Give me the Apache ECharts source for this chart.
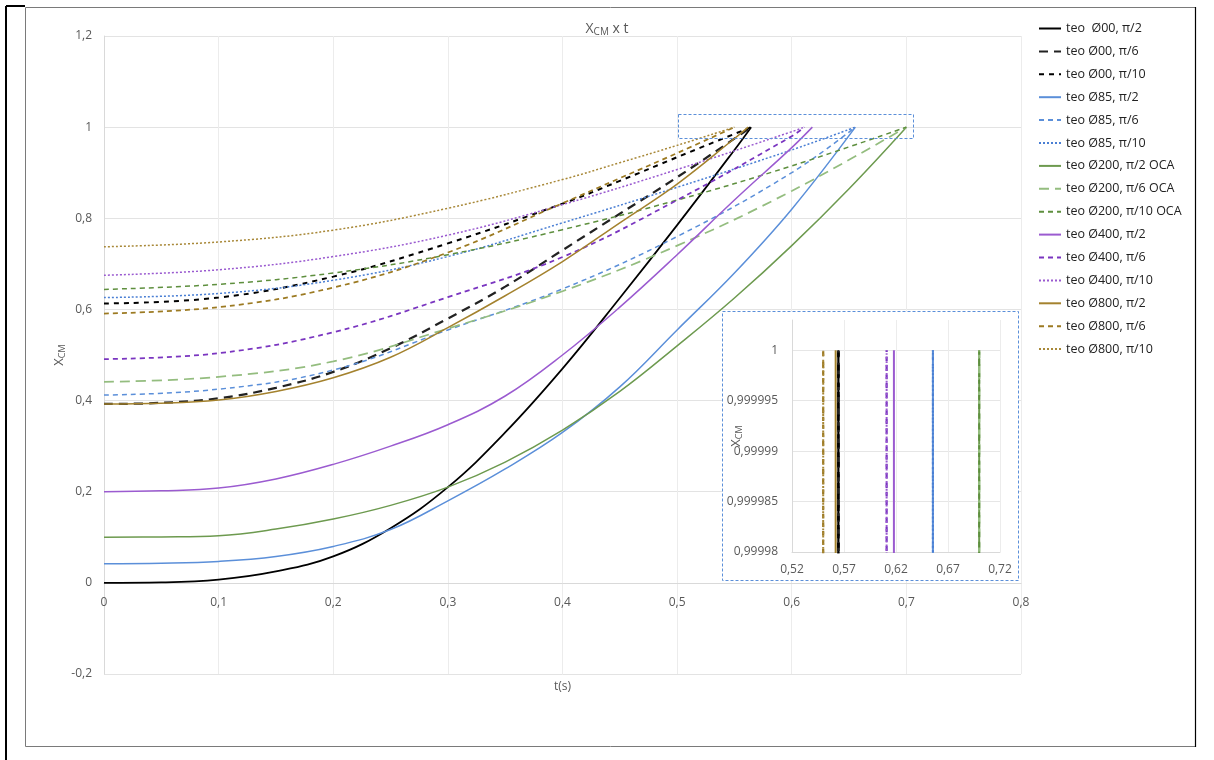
<!DOCTYPE html>
<html><head><meta charset="utf-8">
<script src="https://cdn.jsdelivr.net/npm/echarts@6/dist/echarts.min.js"></script>
<style>html,body{margin:0;padding:0;background:#fff}#c{width:1214px;height:760px}</style>
</head><body><div id="c"></div>
<script>
// ---- DATA ----
const seriesNames = [
  'teo  Ø00, π/2','teo Ø00, π/6','teo Ø00, π/10',
  'teo Ø85, π/2','teo Ø85, π/6','teo Ø85, π/10',
  'teo Ø200, π/2 OCA','teo Ø200, π/6 OCA','teo Ø200, π/10 OCA',
  'teo Ø400, π/2','teo Ø400, π/6','teo Ø400, π/10',
  'teo Ø800, π/2','teo Ø800, π/6','teo Ø800, π/10'
];
// Ø00
const t_00_2  = [0,0.05,0.1,0.15,0.2,0.25,0.3,0.35,0.4,0.45,0.5,0.55,0.5646];
const x_00_2  = [0,0.001,0.007,0.025,0.058,0.12,0.21,0.33,0.47,0.625,0.785,0.95,1];
const t_00_6  = [0,0.05,0.1,0.15,0.2,0.25,0.3,0.35,0.4,0.45,0.5,0.5646];
const x_00_6  = [0.3925,0.395,0.405,0.428,0.463,0.515,0.58,0.65,0.73,0.81,0.89,1];
const t_00_10 = [0,0.1,0.2,0.3,0.4,0.45,0.5,0.5646];
const x_00_10 = [0.613,0.626,0.672,0.745,0.832,0.882,0.934,1];
// Ø85
const t_85_2  = [0,0.05,0.1,0.15,0.2,0.25,0.3,0.35,0.4,0.45,0.5,0.55,0.6,0.6555];
const x_85_2  = [0.042,0.043,0.047,0.058,0.08,0.117,0.18,0.25,0.33,0.43,0.555,0.68,0.82,1];
const t_85_6  = [0,0.1,0.2,0.3,0.4,0.5,0.6,0.6555];
const x_85_6  = [0.412,0.425,0.467,0.555,0.645,0.76,0.9,1];
const t_85_10 = [0,0.1,0.2,0.3,0.4,0.5,0.6,0.6555];
const x_85_10 = [0.626,0.635,0.664,0.716,0.79,0.868,0.95,1];
// Ø200
const t_200_2  = [0,0.05,0.1,0.15,0.2,0.25,0.3,0.35,0.4,0.45,0.5,0.55,0.6,0.65,0.7];
const x_200_2  = [0.1,0.1008,0.1035,0.118,0.14,0.17,0.21,0.265,0.335,0.42,0.52,0.625,0.74,0.865,1];
const t_200_6  = [0,0.1,0.2,0.3,0.4,0.5,0.6,0.7];
const x_200_6  = [0.441,0.452,0.486,0.558,0.64,0.74,0.86,1];
const t_200_10 = [0,0.1,0.2,0.3,0.4,0.5,0.6,0.7];
const x_200_10 = [0.644,0.655,0.68,0.72,0.775,0.84,0.915,1];
// Ø400
const t_400_2  = [0,0.05,0.1,0.15,0.2,0.25,0.3,0.35,0.4,0.45,0.5,0.55,0.6,0.618];
const x_400_2  = [0.2,0.202,0.208,0.228,0.26,0.3,0.347,0.41,0.5,0.605,0.72,0.84,0.955,1];
const t_400_6  = [0,0.1,0.2,0.3,0.4,0.5,0.6,0.611];
const x_400_6  = [0.491,0.504,0.55,0.627,0.715,0.84,0.98,1];
const t_400_10 = [0,0.1,0.2,0.3,0.4,0.5,0.6,0.611];
const x_400_10 = [0.675,0.687,0.716,0.763,0.83,0.907,0.99,1];
// Ø800
const t_800_2  = [0,0.05,0.1,0.15,0.2,0.25,0.3,0.35,0.4,0.45,0.5,0.55,0.562];
const x_800_2  = [0.3925,0.394,0.401,0.42,0.45,0.495,0.56,0.63,0.705,0.79,0.875,0.975,1];
const t_800_6  = [0,0.1,0.2,0.3,0.4,0.45,0.5,0.55];
const x_800_6  = [0.591,0.605,0.648,0.725,0.833,0.888,0.943,1];
const t_800_10 = [0,0.1,0.2,0.3,0.4,0.45,0.5,0.55];
const x_800_10 = [0.7375,0.748,0.774,0.822,0.885,0.922,0.96,1];

const tLists = [t_00_2,t_00_6,t_00_10,t_85_2,t_85_6,t_85_10,t_200_2,t_200_6,t_200_10,t_400_2,t_400_6,t_400_10,t_800_2,t_800_6,t_800_10];
const xLists = [x_00_2,x_00_6,x_00_10,x_85_2,x_85_6,x_85_10,x_200_2,x_200_6,x_200_10,x_400_2,x_400_6,x_400_10,x_800_2,x_800_6,x_800_10];

// ---- STYLES ----
const styles = [
  {c:'#000000', w:1.75, d:'solid'},
  {c:'#222222', w:2.25, d:[9,6]},
  {c:'#000000', w:2,    d:[5,5]},
  {c:'#5b8fd9', w:1.5,  d:'solid'},
  {c:'#5b8fd9', w:1.5,  d:[5,4]},
  {c:'#4a7fd4', w:1.5,  d:[2,2]},
  {c:'#6d9a4f', w:1.5,  d:'solid'},
  {c:'#94bd7f', w:1.75, d:[10,6]},
  {c:'#5e8f3e', w:1.5,  d:[5,4]},
  {c:'#9b5bd0', w:1.5,  d:'solid'},
  {c:'#7a35c0', w:1.75, d:[5,4]},
  {c:'#9a5ad0', w:1.5,  d:[2,2]},
  {c:'#a4822e', w:1.5,  d:'solid'},
  {c:'#9c7a22', w:1.75, d:[5,4]},
  {c:'#a88838', w:1.5,  d:[2,2]}
];
const FONT = 'Open Sans';
const GRAY = '#595959';
const fmt = v => String(+(+v).toFixed(6)).replace('.', ',');
const subRich = (sz) => ({
  a:{fontSize:sz, lineHeight:sz+1, color:GRAY, fontFamily:FONT, fontWeight:'normal', verticalAlign:'top'},
  b:{fontSize:Math.round(sz*0.68), lineHeight:Math.round(sz*0.68), color:GRAY, fontFamily:FONT, fontWeight:'normal', verticalAlign:'bottom', padding:[Math.round(sz*0.6),0,0,0]}
});

const series = [];
seriesNames.forEach((n,i)=>{
  const data = tLists[i].map((t,k)=>[t, xLists[i][k]]);
  const s = styles[i];
  series.push({name:n, type:'line', xAxisIndex:0, yAxisIndex:0, data, symbol:'none', showSymbol:false,
    smooth:0.4, clip:true, z:2,
    lineStyle:{color:s.c, width:s.w, type:s.d}, itemStyle:{color:s.c}});
});
seriesNames.forEach((n,i)=>{
  const data = tLists[i].map((t,k)=>[t, xLists[i][k]]);
  const s = styles[i];
  series.push({name:n, type:'line', xAxisIndex:1, yAxisIndex:1, data, symbol:'none', showSymbol:false,
    smooth:0.4, clip:true, z:30,
    lineStyle:{color:s.c, width:s.w+0.5, type:s.d}, itemStyle:{color:s.c}});
});

const chart = echarts.init(document.getElementById('c'), null, {renderer:'canvas'});
chart.setOption({
  animation:false,
  backgroundColor:'#ffffff',
  title:{text:'{a|X}{b|CM}{a| x t}', left:'center', top:17, textStyle:{rich:subRich(14)}},
  legend:{orient:'vertical', left:1033, top:17, itemWidth:22, itemHeight:14, itemGap:9.9,
    data:seriesNames, textStyle:{fontFamily:FONT, fontSize:12.5, color:'#222'}, selectedMode:false,
    itemStyle:{opacity:0}},
  grid:[
    {left:104, right:193, top:36, bottom:86, containLabel:false, outerBoundsMode:'none'},
    {left:792, right:214, top:320, bottom:208, containLabel:false, outerBoundsMode:'none'}
  ],
  xAxis:[
    {type:'value', gridIndex:0, min:0, max:0.8, interval:0.1, position:'bottom', offset:-91,
     name:'t(s)', nameLocation:'middle', nameGap:98, nameMoveOverlap:false,
     nameTextStyle:{fontFamily:FONT, fontSize:12, color:GRAY},
     axisLine:{show:true, onZero:false, lineStyle:{color:'#d9d9d9'}}, axisTick:{show:false},
     axisLabel:{margin:14, fontFamily:FONT, fontSize:12, color:GRAY, formatter:fmt},
     splitLine:{show:true, lineStyle:{color:'#ececec'}}},
    {type:'value', gridIndex:1, min:0.52, max:0.72, interval:0.05, z:25,
     axisLine:{show:true, onZero:false, lineStyle:{color:'#d9d9d9'}}, axisTick:{show:false},
     axisLabel:{margin:12, fontFamily:FONT, fontSize:12, color:GRAY, formatter:fmt},
     splitLine:{show:true, lineStyle:{color:'#ececec'}}}
  ],
  yAxis:[
    {type:'value', gridIndex:0, min:-0.2, max:1.2, interval:0.2,
     name:'{a|X}{b|CM}', nameLocation:'middle', nameGap:37, nameRotate:90, nameMoveOverlap:false,
     nameTextStyle:{rich:subRich(13)},
     axisLine:{show:true, onZero:false, lineStyle:{color:'#d9d9d9'}}, axisTick:{show:false},
     axisLabel:{margin:12, fontFamily:FONT, fontSize:12, color:GRAY, formatter:fmt},
     splitLine:{show:true, lineStyle:{color:'#e3e3e3'}}},
    {type:'value', gridIndex:1, min:0.99998, max:1.000003, interval:0.000005, z:25,
     name:'{a|X}{b|CM}', nameLocation:'middle', nameGap:48, nameRotate:90, nameMoveOverlap:false,
     nameTextStyle:{rich:subRich(13)},
     axisLine:{show:true, onZero:false, lineStyle:{color:'#d9d9d9'}}, axisTick:{show:false},
     axisLabel:{margin:14, fontFamily:FONT, fontSize:12, color:GRAY, formatter:fmt, showMaxLabel:false},
     splitLine:{show:true, showMaxLine:false, lineStyle:{color:'#e6e6e6'}}}
  ],
  graphic:[
    {type:'line', z:100, shape:{x1:6, y1:6, x2:6, y2:760}, style:{stroke:'#000', lineWidth:2}},
    {type:'line', z:100, shape:{x1:6, y1:6, x2:25, y2:6}, style:{stroke:'#000', lineWidth:2}},
    {type:'rect', z:100, shape:{x:25.5, y:7.5, width:1170, height:739}, style:{fill:'none', stroke:'#7a7a7a', lineWidth:1}},
    {type:'line', z:100, shape:{x1:1195.5, y1:7, x2:1195.5, y2:747}, style:{stroke:'#000', lineWidth:1.2}},
    {type:'rect', z:10, shape:{x:678.5, y:114.5, width:235, height:24}, style:{fill:'none', stroke:'#5b8fd9', lineWidth:1, lineDash:[3,2]}},
    {type:'rect', z:10, shape:{x:722.5, y:311.5, width:296, height:269}, style:{fill:'#ffffff', stroke:'#5b8fd9', lineWidth:1, lineDash:[3,2]}}
  ],
  series
});
</script></body></html>
